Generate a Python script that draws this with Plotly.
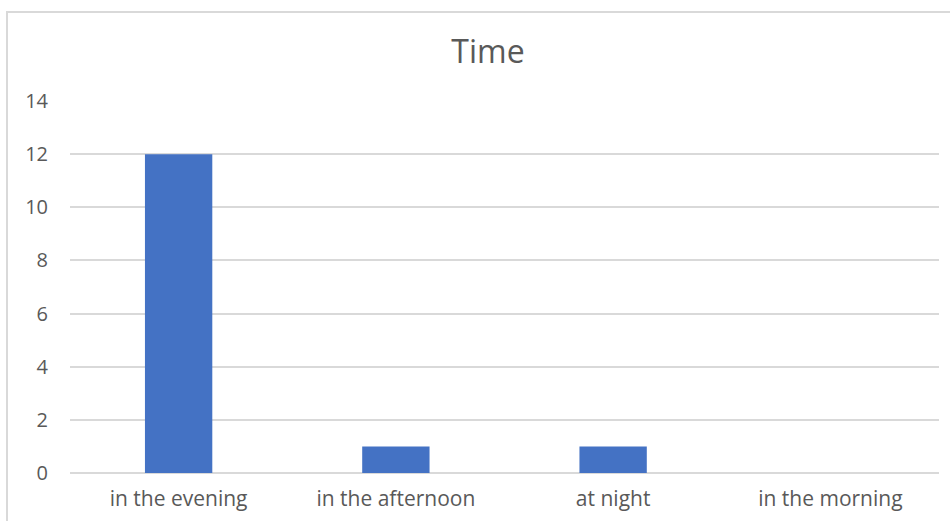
import plotly.graph_objects as go

categories = ["in the evening", "in the afternoon", "at night", "in the morning"]
values = [12, 1, 1, 0]
y_ticks = [0, 2, 4, 6, 8, 10, 12, 14]

W, H = 950, 521
ml, mr, mt, mb = 70, 11, 101, 48
pw = W - ml - mr
ph = H - mt - mb

fig = go.Figure(go.Bar(
    x=categories, y=values, marker_color="#4472c4", width=0.31,
    marker_line_width=0,
))

fig.update_layout(
    width=W, height=H,
    margin=dict(l=ml, r=mr, t=mt, b=mb),
    paper_bgcolor="white", plot_bgcolor="white",
    font=dict(family="Open Sans, sans-serif", color="#595959", size=19),
    title=dict(text="Time", x=488 / W, xanchor="center",
               y=1 - 52 / H, yanchor="middle",
               font=dict(size=32, color="#595959")),
    xaxis=dict(showgrid=False, showline=False, ticks="", tickfont=dict(size=21),
               ticklabelstandoff=11, automargin=False),
    yaxis=dict(range=[0, 14], tickvals=y_ticks, showgrid=True, gridcolor="#d9d9d9",
               gridwidth=2, zeroline=True, zerolinecolor="#d9d9d9", zerolinewidth=2,
               showline=False, ticks="", ticklabelstandoff=21, tickfont=dict(size=20),
               automargin=False),
    showlegend=False,
    bargap=0.69,
)

fig.add_shape(type="rect", xref="paper", yref="paper",
              x0=(7 - ml) / pw, x1=(W + 10 - ml) / pw,
              y0=-(H + 10 - mt - ph) / ph, y1=(H - 12 - mb) / ph,
              line=dict(color="#d9d9d9", width=2), layer="below")

fig.write_html("out.html")
